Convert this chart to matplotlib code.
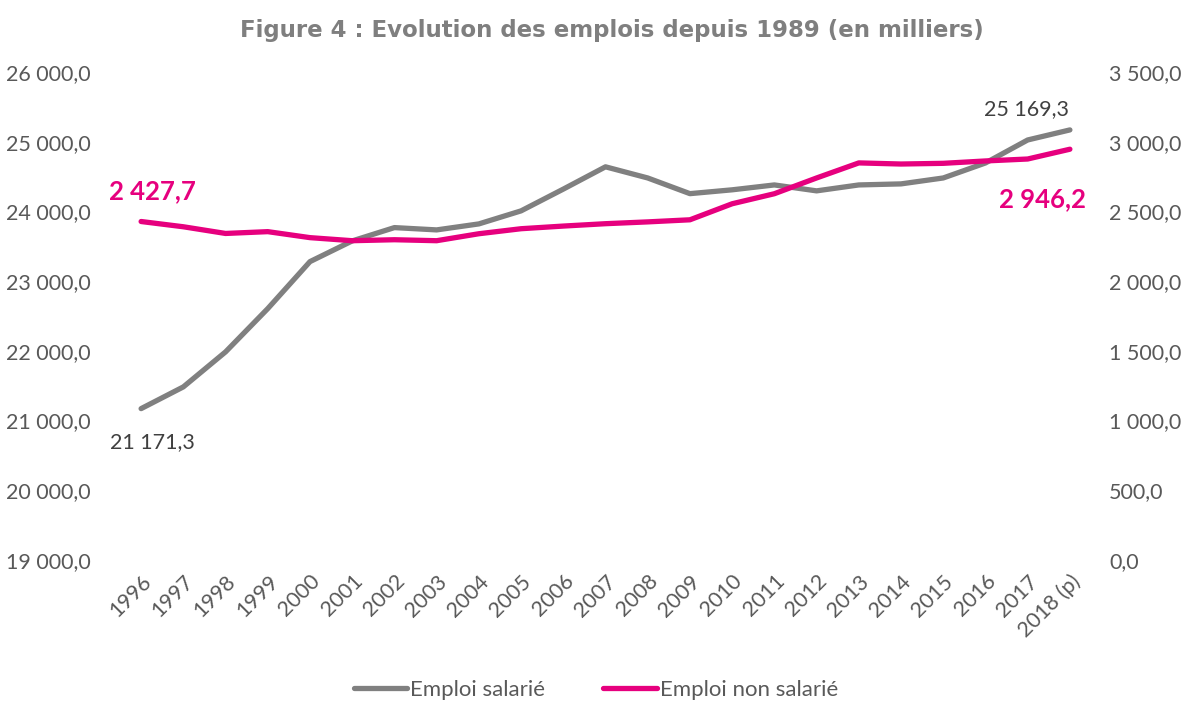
import numpy as np
import matplotlib
matplotlib.use("Agg")
import matplotlib.pyplot as plt

# donnees (en milliers)
years = ['1996', '1997', '1998', '1999', '2000', '2001', '2002', '2003', '2004', '2005',
         '2006', '2007', '2008', '2009', '2010', '2011', '2012', '2013', '2014', '2015',
         '2016', '2017', '2018 (p)']
salarie = [21171.3, 21483, 21985, 22606, 23280, 23577, 23768, 23735, 23821, 24008,
           24320, 24640, 24480, 24255, 24310, 24380, 24295, 24380, 24395, 24480,
           24695, 25025, 25169.3]
non_salarie = [2427.7, 2390, 2342, 2355, 2312, 2290, 2297, 2290, 2340, 2376,
               2395, 2412, 2425, 2440, 2555, 2627, 2740, 2848, 2840, 2845,
               2862, 2876, 2946.2]

GRIS = '#808080'
ROSE = '#E6007E'
TXT = '#595959'

plt.rcParams['font.family'] = ['Lato', 'DejaVu Sans']


def fr(v):
    s = f"{v:,.1f}"
    return s.replace(',', ' ').replace('.', ',')


fig = plt.figure(figsize=(11.89, 7.02), dpi=100)
ax = fig.add_axes([120 / 1189, 1 - 560 / 702, 971 / 1189, 488 / 702])
ax2 = ax.twinx()

x = np.arange(len(years))
l1, = ax.plot(x, salarie, color=GRIS, lw=3.8, solid_capstyle='round', label='Emploi salarié')
l2, = ax2.plot(x, non_salarie, color=ROSE, lw=3.8, solid_capstyle='round', label='Emploi non salarié')

ax.set_xlim(-0.5, len(years) - 0.5)
ax.set_ylim(19000, 26000)
ax2.set_ylim(0, 3500)
ax.set_yticks(np.arange(19000, 26001, 1000))
ax.set_yticklabels([fr(v) for v in np.arange(19000, 26001, 1000)])
ax2.set_yticks(np.arange(0, 3501, 500))
ax2.set_yticklabels([fr(v) for v in np.arange(0, 3501, 500)])

ax.set_xticks(x)
ax.set_xticklabels(years, rotation=45, ha='right', rotation_mode='anchor')

for a in (ax, ax2):
    for s in a.spines.values():
        s.set_visible(False)
    a.tick_params(length=0, labelsize=15.5, colors=TXT)
ax.tick_params(axis='y', pad=21)
ax2.tick_params(axis='y', pad=13)
ax.tick_params(axis='x', pad=8)

# etiquettes des valeurs
ax.annotate(fr(salarie[0]), (x[0], salarie[0]), xytext=(8, -24), textcoords='offset points',
            ha='center', va='center', fontsize=15.5, color='#404040')
ax.annotate(fr(salarie[-1]), (x[-1], salarie[-1]), xytext=(-31, 15), textcoords='offset points',
            ha='center', va='center', fontsize=15.5, color='#404040')
ax2.annotate(fr(non_salarie[0]), (x[0], non_salarie[0]), xytext=(8, 22), textcoords='offset points',
             ha='center', va='center', fontsize=18.5, color=ROSE, fontweight='bold')
ax2.annotate(fr(non_salarie[-1]), (x[-1], non_salarie[-1]), xytext=(-20, -36), textcoords='offset points',
             ha='center', va='center', fontsize=18.5, color=ROSE, fontweight='bold')

fig.text(612 / 1189, 1 - 30 / 702, 'Figure 4 : Evolution des emplois depuis 1989 (en milliers)',
         ha='center', va='center', fontsize=16.5, fontweight='bold', color='#7f7f7f',
         family='DejaVu Sans')

fig.legend(handles=[l1, l2], loc='center', bbox_to_anchor=(596 / 1189, 1 - 690 / 702),
           ncol=2, frameon=False, fontsize=16, labelcolor=TXT, handlelength=2.4,
           handletextpad=0.15, columnspacing=2.6)

fig.savefig('out.png', dpi=100)
